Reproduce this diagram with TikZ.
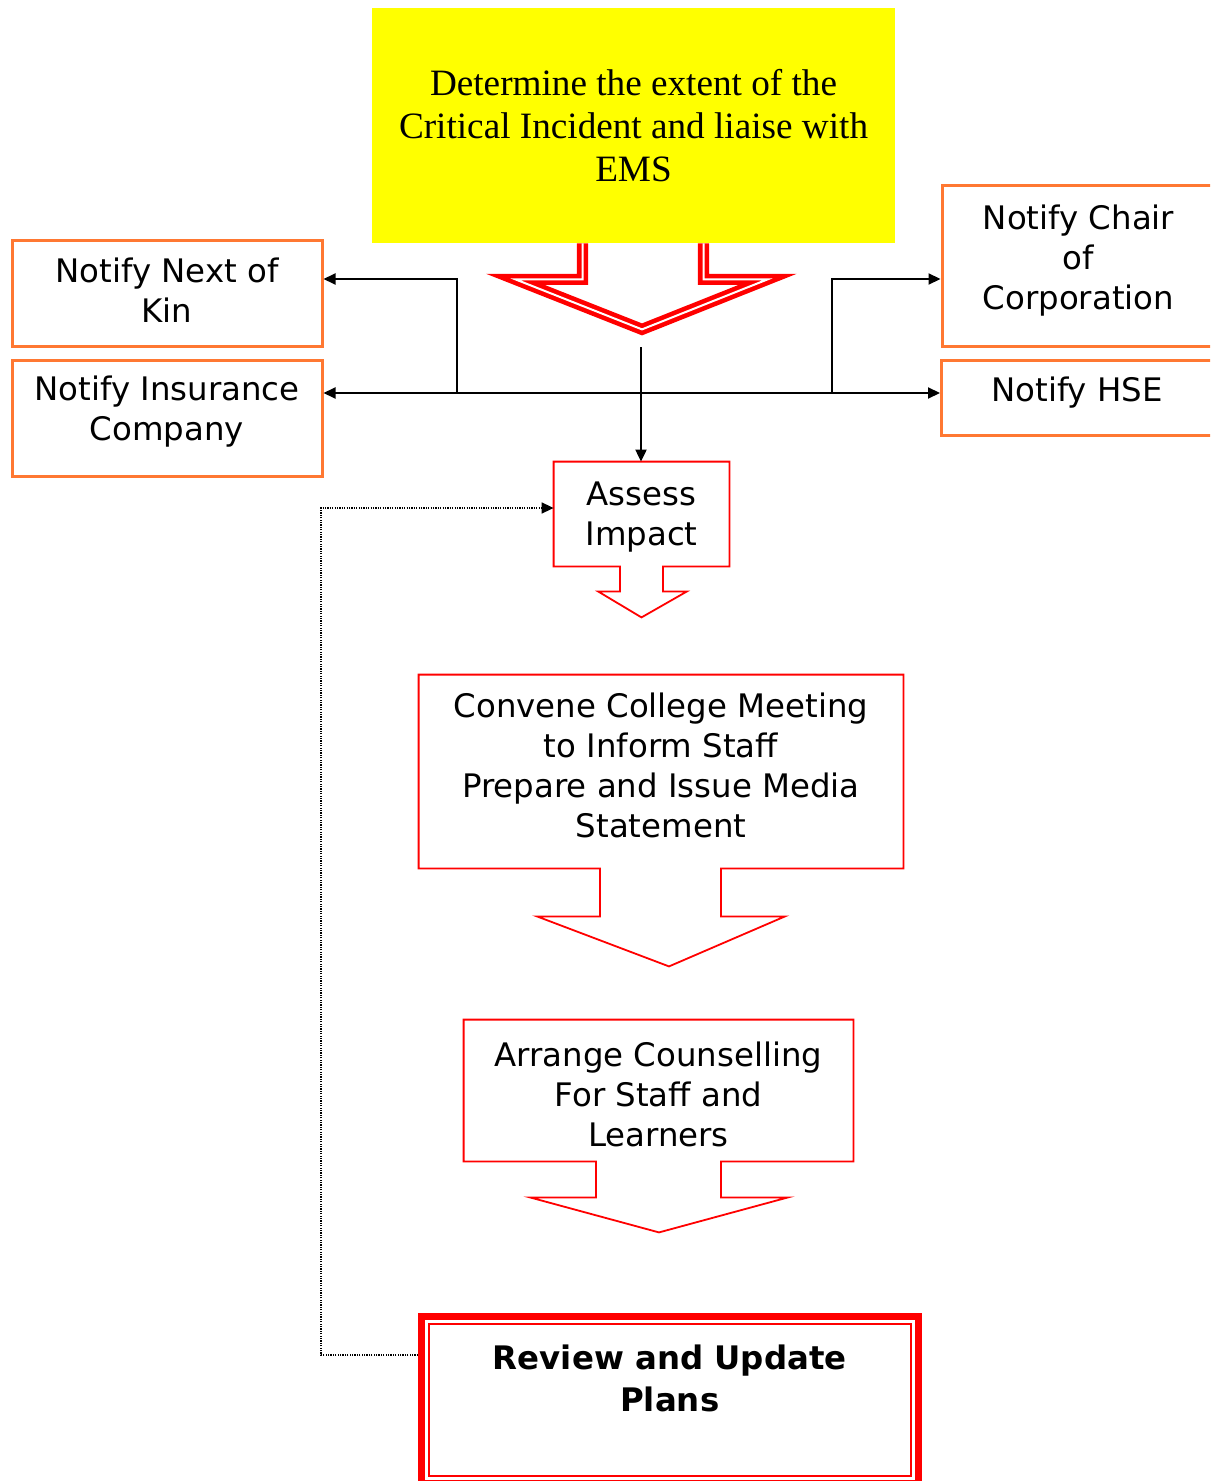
\documentclass[tikz,border=0pt]{standalone}
\usepackage{fontspec}
\setmainfont{Liberation Serif}
\setsansfont{DejaVu Sans}
\usepackage{tikz}
\usetikzlibrary{arrows.meta,calc,positioning}

\definecolor{notecol}{RGB}{255,120,50}
\definecolor{emsyellow}{RGB}{255,255,0}

\newlength\Px \setlength\Px{0.5pt}

\begin{document}
\begin{tikzpicture}[x=\Px, y=-\Px,
					every node/.style={inner sep=0pt, align=center},
					txt/.style={font=\sffamily\fontsize{16.2}{20}\selectfont},
					note/.style={draw=notecol, line width=1.5pt},
					stage/.style={draw=none},
					flow/.style={draw=red, line width=0.9pt, line join=miter},
					bigflow/.style={draw=red, line width=2.3pt, double=white, double distance=1pt, line join=miter},
					link/.style={line width=1pt, -{Triangle[length=6pt,width=5.5pt]}},
					back/.style={line width=0.8pt, dash pattern=on 0.6pt off 0.6pt, -{Triangle[length=6pt,width=5.5pt]}}
				]
				\useasboundingbox (0,0) rectangle (1210,1481);
				\clip (0,0) rectangle (1210,1481);
				
				\node[fill=emsyellow, minimum width=523\Px, minimum height=235\Px,
					font=\rmfamily\fontsize{18.6}{21.5}\selectfont] (ems) at (633.5,125.5)
					{Determine the extent of the\\Critical Incident and liaise with\\EMS};
				
				% notification boxes
				\node[note, minimum width=310\Px, minimum height=105\Px] (kin) at (167,293.5) {};
				\node[note, minimum width=310\Px, minimum height=116\Px, below=11\Px of kin] (ins) {};
				\node[note, minimum width=273\Px, minimum height=160\Px] (chair) at (1078.5,266) {};
				\node[note, minimum width=274\Px, minimum height=75\Px, below=11\Px of chair] (hse) {};
				
				% steps
				\node[stage, minimum width=175\Px, minimum height=104\Px] (assess) at (641.5,514) {};
				\node[stage, minimum width=484\Px, minimum height=193\Px] (convene) at (661,771.5) {};
				\node[stage, minimum width=389\Px, minimum height=141\Px] (counsel) at (658.5,1090.5) {};
				\node[draw=red, line width=3.5pt, minimum width=496.5\Px, minimum height=166.5\Px] (review) at (669.75,1399.75) {};
				\draw[red, line width=1pt] ($(review.north west)+(10.5,10.5)$) rectangle ($(review.south east)+(-10.5,-10.5)$);
				
				\node[txt] (kintext) at ($(kin)+(0,-3)$) {Notify Next of\\Kin};
				\node[txt] (instext) at ($(ins)+(0,-6.5)$) {Notify Insurance\\Company};
				\node[txt] (chairtext) at ($(chair)+(0,-5.5)$) {Notify Chair\\of\\Corporation};
				\node[txt] (hsetext) at ($(hse)+(-1.5,-5)$) {Notify HSE};
				\node[txt] (assesstext) at ($(assess)+(0,3)$) {Assess\\Impact};
				\node[txt] (convenetext) at ($(convene)+(0,-6)$) {Convene College Meeting\\to Inform Staff\\Prepare and Issue Media\\Statement};
				\node[txt] (counseltext) at ($(counsel)+(0,4)$) {Arrange Counselling\\For Staff and\\Learners};
				\node[txt, font=\sffamily\bfseries\fontsize{16.2}{21}\selectfont] (reviewtext) at ($(review)+(0,-21)$) {Review and Update\\Plans};
				
				% block arrows
				\draw[bigflow] ($(ems.south)+(-51,0)$) -- ++(0,36) -- ($(ems.south)+(-118,36)$)
					-- ($(ems.south)+(8.5,86)$) -- ($(ems.south)+(134,36)$) -- ($(ems.south)+(70,36)$) -- ($(ems.south)+(70,0)$);
				\draw[flow] (assess.south west) -- (assess.north west) -- (assess.north east) -- (assess.south east)
					-- ($(assess.south)+(21.5,0)$) -- ($(assess.south)+(21.5,25)$) -- ($(assess.south)+(45.5,25)$)
					-- ($(assess.south)+(0,51)$) -- ($(assess.south)+(-43.5,25)$) -- ($(assess.south)+(-21.5,25)$)
					-- ($(assess.south)+(-21.5,0)$) -- cycle;
				\draw[flow] (convene.south west) -- (convene.north west) -- (convene.north east) -- (convene.south east)
					-- ($(convene.south)+(60,0)$) -- ($(convene.south)+(60,48)$) -- ($(convene.south)+(124,48)$)
					-- ($(convene.south)+(8,98)$) -- ($(convene.south)+(-124,48)$) -- ($(convene.south)+(-61,48)$)
					-- ($(convene.south)+(-61,0)$) -- cycle;
				\draw[flow] (counsel.south west) -- (counsel.north west) -- (counsel.north east) -- (counsel.south east)
					-- ($(counsel.south)+(62.5,0)$) -- ($(counsel.south)+(62.5,36)$) -- ($(counsel.south)+(129.5,36)$)
					-- ($(counsel.south)+(0.5,71)$) -- ($(counsel.south)+(-128.5,36)$) -- ($(counsel.south)+(-62.5,36)$)
					-- ($(counsel.south)+(-62.5,0)$) -- cycle;
				
				% connectors
				\coordinate (drop) at (641,347);
				\coordinate (hub) at (641,393);
				\coordinate (lj) at (457,393);
				\coordinate (lup) at (457,279);
				\coordinate (rj) at (832,393);
				\coordinate (rup) at (832,279);
				\coordinate (fb1) at (321,1355);
				\coordinate (fb2) at (321,508);
				
				\draw[link] (drop) -- (drop |- assess.north);
				\draw[link] (hub) -- (hub -| ins.east);
				\draw[link] (hub) -- (hub -| hse.west);
				\draw[link] (lj) -- (lup) -- (lup -| kin.east);
				\draw[link] (rj) -- (rup) -- (rup -| chair.west);
				\draw[back] (fb1 -| review.west) -- (fb1) -- (fb2) -- (fb2 -| assess.west);
			\end{tikzpicture}
\end{document}
